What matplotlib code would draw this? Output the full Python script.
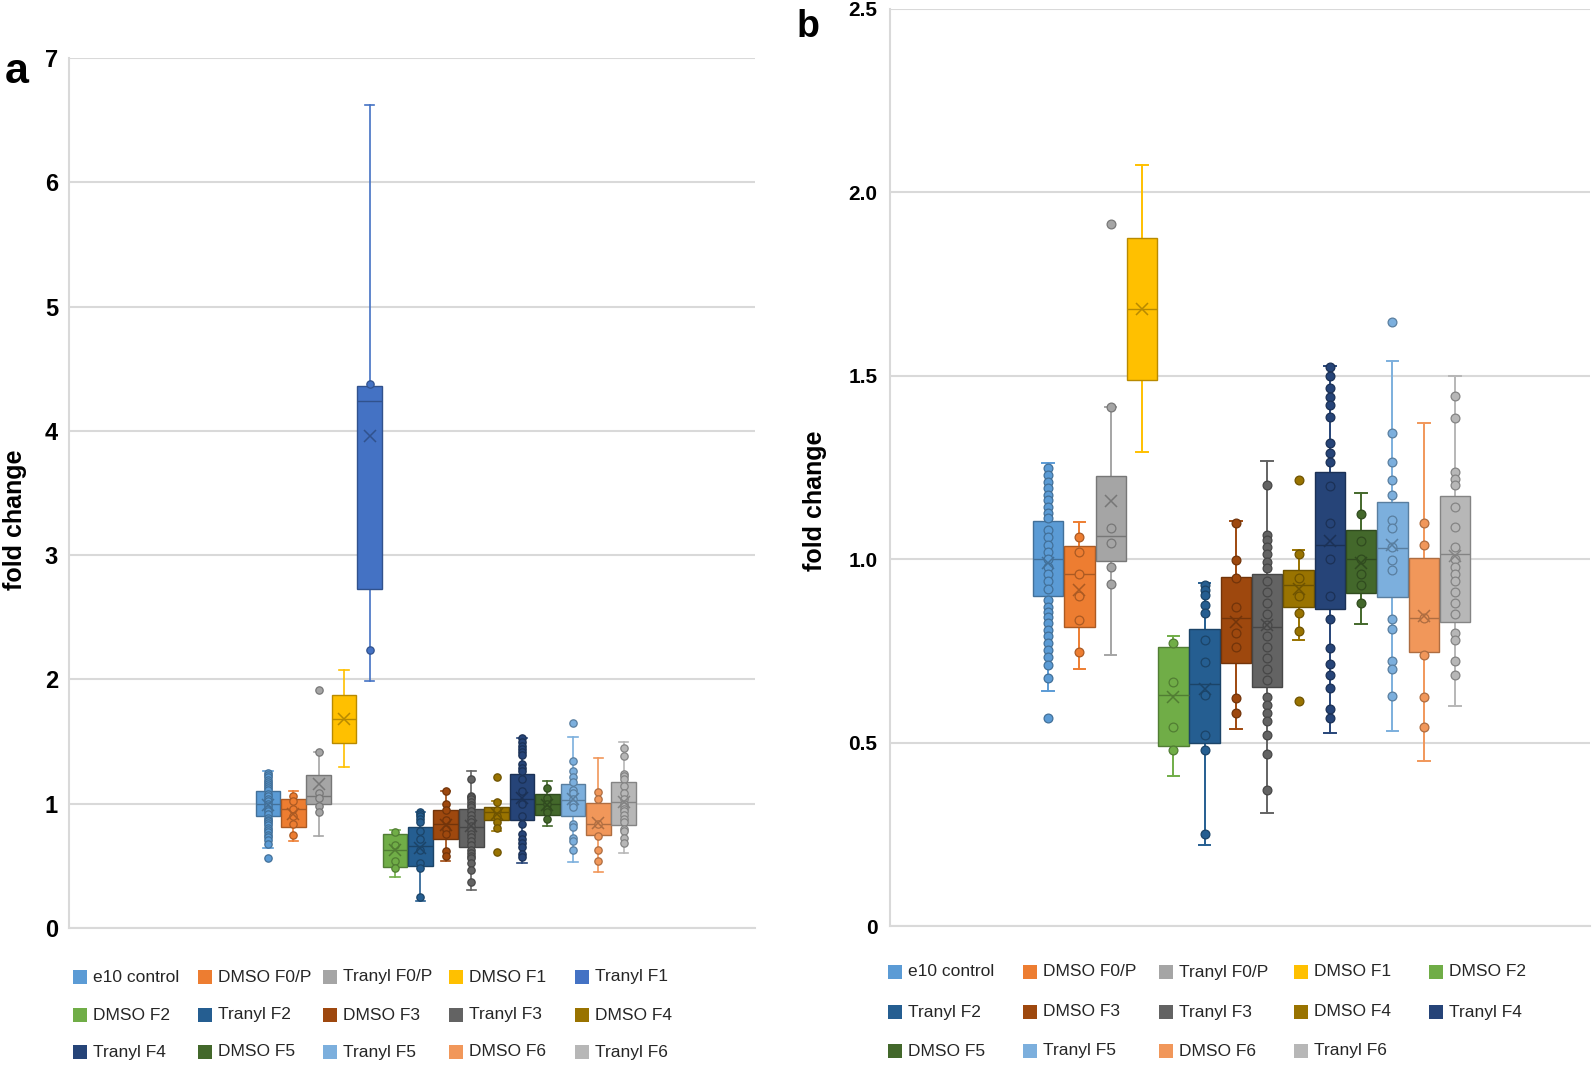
import matplotlib.pyplot as plt
from matplotlib.patches import Rectangle
from matplotlib.colors import to_rgb
import numpy as np

plt.rcParams['font.family'] = ['Liberation Sans', 'DejaVu Sans']

groups = ["e10 control", "DMSO F0/P", "Tranyl F0/P", "DMSO F1", "Tranyl F1",
          "DMSO F2", "Tranyl F2", "DMSO F3", "Tranyl F3", "DMSO F4",
          "Tranyl F4", "DMSO F5", "Tranyl F5", "DMSO F6", "Tranyl F6"]
colors = ["#5B9BD5", "#ED7D31", "#A5A5A5", "#FFC000", "#4472C4",
          "#70AD47", "#255E91", "#9E480E", "#636363", "#997300",
          "#264478", "#43682B", "#7CAFDD", "#F1975A", "#B7B7B7"]

# box statistics
q1 = [0.900, 0.816, 0.995, 1.489, 2.725, 0.491, 0.499, 0.718, 0.652, 0.870,
      0.865, 0.908, 0.898, 0.747, 0.829]
med = [1.000, 0.959, 1.063, 1.681, 4.240, 0.630, 0.660, 0.840, 0.816, 0.930,
       1.040, 1.000, 1.030, 0.840, 1.014]
q3 = [1.104, 1.036, 1.228, 1.877, 4.357, 0.760, 0.810, 0.951, 0.961, 0.970,
      1.238, 1.079, 1.156, 1.002, 1.171]
whislo = [0.641, 0.702, 0.739, 1.293, 1.990, 0.408, 0.220, 0.537, 0.307, 0.780,
          0.527, 0.824, 0.532, 0.450, 0.600]
whishi = [1.263, 1.102, 1.416, 2.074, 6.620, 0.791, 0.935, 1.104, 1.267, 1.024,
          1.527, 1.181, 1.540, 1.370, 1.499]
means = [0.990, 0.916, 1.160, 1.683, 3.960, 0.625, 0.645, 0.830, 0.820, 0.920,
         1.050, 0.990, 1.040, 0.845, 1.010]

# inner points and outliers
inner_points = [
    [1.248, 1.230, 1.211, 1.193, 1.175, 1.161, 1.143, 1.125, 1.111, 1.08, 1.06,
     1.04, 1.02, 1.00, 0.98, 0.96, 0.94, 0.92, 0.889, 0.871, 0.857, 0.842,
     0.825, 0.807, 0.791, 0.771, 0.752, 0.734, 0.712, 0.675],
    [1.061, 1.02, 0.959, 0.90, 0.834, 0.748],
    [1.416, 1.084, 1.043, 0.980, 0.932],
    [],
    [4.38, 2.24],
    [0.771, 0.666, 0.543, 0.481],
    [0.930, 0.916, 0.902, 0.875, 0.852, 0.78, 0.72, 0.63, 0.52, 0.48, 0.25],
    [1.10, 0.999, 0.95, 0.87, 0.80, 0.76, 0.621, 0.58],
    [1.202, 1.066, 1.052, 1.034, 1.014, 0.993, 0.975, 0.94, 0.91, 0.88, 0.85,
     0.82, 0.79, 0.76, 0.73, 0.70, 0.67, 0.625, 0.603, 0.58, 0.56, 0.52, 0.47,
     0.37],
    [1.014, 0.95, 0.90, 0.853, 0.804],
    [1.525, 1.50, 1.468, 1.443, 1.42, 1.389, 1.318, 1.29, 1.266, 1.20, 1.10,
     1.00, 0.90, 0.837, 0.759, 0.714, 0.685, 0.649, 0.592, 0.568],
    [1.123, 1.05, 1.00, 0.96, 0.93, 0.881],
    [1.343, 1.266, 1.216, 1.175, 1.107, 1.085, 1.034, 0.998, 0.971, 0.837,
     0.81, 0.723, 0.70, 0.628],
    [1.098, 1.04, 0.84, 0.74, 0.625, 0.543],
    [1.445, 1.384, 1.239, 1.220, 1.202, 1.143, 1.089, 1.034, 1.0, 0.98, 0.96,
     0.94, 0.91, 0.88, 0.85, 0.80, 0.78, 0.723, 0.685],
]
outliers = [[0.567], [], [1.914], [], [], [], [], [], [], [1.216, 0.613],
            [], [], [1.646], [], []]

W, H = 1594, 1074
fig = plt.figure(figsize=(W / 100, H / 100), dpi=100)


def dark(c, f=0.72):
    r, g, b = to_rgb(c)
    return (r * f, g * f, b * f)


def draw_panel(ax, idx, width, msize, lw):
    pos = np.arange(len(idx))
    stats = [dict(q1=q1[i], med=med[i], q3=q3[i], whislo=whislo[i],
                  whishi=whishi[i], mean=means[i], fliers=[]) for i in idx]
    art = ax.bxp(stats, positions=pos, widths=width, patch_artist=True,
                 showmeans=True, showfliers=False, capwidths=width * 0.38,
                 manage_ticks=False)
    for k, i in enumerate(idx):
        c, d = colors[i], dark(colors[i])
        art['boxes'][k].set(facecolor=c, edgecolor=d, linewidth=1.0, zorder=2)
        art['medians'][k].set(color=d, linewidth=1.0, zorder=2.5)
        for ln in art['whiskers'][2 * k:2 * k + 2] + art['caps'][2 * k:2 * k + 2]:
            ln.set(color=c, linewidth=lw, zorder=1.5)
        art['means'][k].set(marker='x', markeredgecolor=d, markersize=9,
                            markeredgewidth=1.1, linestyle='none', zorder=4)
        pts = inner_points[i] + outliers[i]
        if pts:
            ax.scatter(np.full(len(pts), pos[k]), pts, s=msize, facecolor=c,
                       edgecolor=d, linewidth=0.9, zorder=3)


def style_axes(ax, ticks, labels, fs, pad):
    ax.set_yticks(ticks)
    ax.set_yticklabels(labels, fontsize=fs, fontweight='bold')
    ax.set_xticks([])
    ax.tick_params(axis='y', length=0, pad=pad)
    ax.yaxis.grid(True, color='#d9d9d9', linewidth=1.5)
    ax.set_axisbelow(True)
    for s in ['top', 'right']:
        ax.spines[s].set_visible(False)
    for s in ['left', 'bottom']:
        ax.spines[s].set_color('#d9d9d9')
        ax.spines[s].set_linewidth(1.5)


def draw_legend(idx, xs, ys):
    for n, i in enumerate(idx):
        x = xs[n % 5]
        y = ys[n // 5]
        fig.add_artist(Rectangle((x / W, 1 - (y + 7) / H), 14 / W, 14 / H,
                                 transform=fig.transFigure,
                                 facecolor=colors[i], edgecolor='none'))
        fig.text((x + 20) / W, 1 - y / H, groups[i], fontsize=12.5,
                 color='#262626', ha='left', va='center')


# panel a
ax_a = fig.add_axes([69 / W, 1 - 928 / H, 686 / W, 870 / H])
idx_a = list(range(15))
draw_panel(ax_a, idx_a, 0.97, 28, 1.2)
ax_a.set_xlim(-7.83, 19.17)
ax_a.set_ylim(0, 7)
style_axes(ax_a, range(8), [str(v) for v in range(8)], 17, 8)
fig.text(15 / W, 1 - 520 / H, "fold change", rotation=90, fontsize=18,
         fontweight='bold', ha='center', va='center')
fig.text(17 / W, 1 - 83 / H, "a", fontsize=31, fontweight='bold',
         ha='center', va='baseline')
draw_legend(idx_a, [73, 198, 323, 449, 575], [977, 1015, 1052])

# panel b
ax_b = fig.add_axes([890 / W, 1 - 926 / H, 700 / W, 917 / H])
idx_b = [i for i in range(15) if i != 4]
draw_panel(ax_b, idx_b, 0.97, 40, 1.4)
ax_b.set_xlim(-5.05, 17.31)
ax_b.set_ylim(0, 2.5)
style_axes(ax_b, [0, 0.5, 1.0, 1.5, 2.0, 2.5],
           ["0", "0.5", "1.0", "1.5", "2.0", "2.5"], 15, 9)
fig.text(815 / W, 1 - 501 / H, "fold change", rotation=90, fontsize=18,
         fontweight='bold', ha='center', va='center')
fig.text(808 / W, 1 - 37 / H, "b", fontsize=27, fontweight='bold',
         ha='center', va='baseline')
draw_legend(idx_b, [888, 1023, 1159, 1294, 1429], [972, 1012, 1051])

fig.savefig("out.png", dpi=100)
